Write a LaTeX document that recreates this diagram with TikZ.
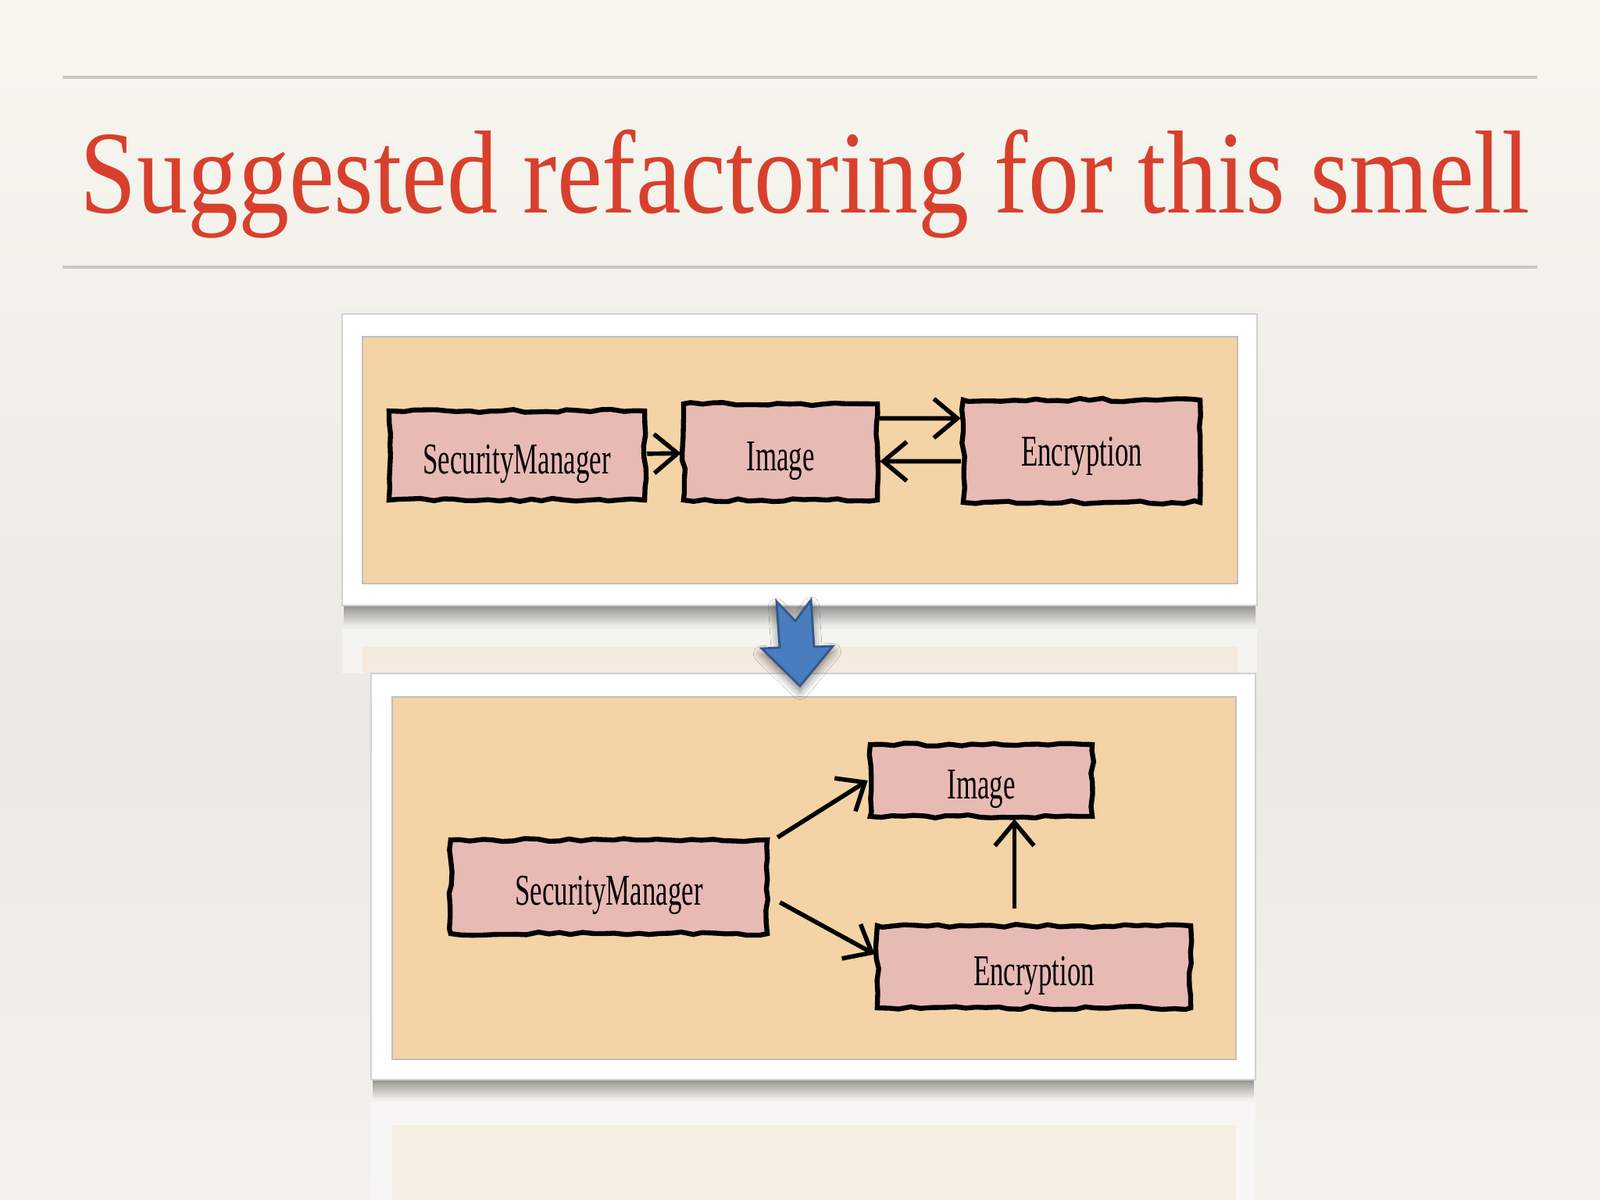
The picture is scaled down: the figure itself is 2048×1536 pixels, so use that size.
\documentclass[tikz,border=0pt]{standalone}
\usepackage{fontspec}
\setmainfont{Liberation Serif}
\newfontfamily\titlefont[FakeStretch=0.86]{Liberation Serif}
\newfontfamily\sketchfont[FakeStretch=0.62]{Liberation Serif}
\usetikzlibrary{shapes,arrows.meta,calc,decorations.pathmorphing,shadows.blur}
\definecolor{slidetop}{HTML}{F7F6EF}
\definecolor{slidemid}{HTML}{EAE9E4}
\definecolor{slidebot}{HTML}{F3F2ED}
\definecolor{titlered}{HTML}{D8402D}
\definecolor{rulegray}{HTML}{CAC8C2}
\definecolor{peach}{HTML}{F4D3A6}
\definecolor{boxpink}{HTML}{E8BAB4}
\definecolor{arrowblue}{HTML}{4A7CC0}
\definecolor{arrowedge}{HTML}{34578A}

\begin{document}
\begin{tikzpicture}[x=0.01cm, y=-0.01cm,
  box_/.style={rectangle, draw=black, fill=boxpink, line width=1.8pt, decorate,
    decoration={random steps, segment length=4pt, amplitude=0.6pt},
    inner sep=0pt, text height=17pt, align=center, font=\sketchfont\fontsize{16}{18}\selectfont},
  arr/.style={-{Straight Barb[length=3mm, width=5mm]}, line width=1.6pt, black},
  frame_/.style={fill=white, draw=black!18, line width=0.6pt},
  shadow_/.style={top color=black!45!slidemid, bottom color=slidemid},
  sketch_/.style={fill=peach, draw=black!25, line width=0.4pt}
]
  % slide background
  \shade[top color=slidetop, bottom color=slidemid] (0,0) rectangle (2048,930);
  \shade[top color=slidemid, bottom color=slidebot] (0,930) rectangle (2048,1536);
  \useasboundingbox (0,0) rectangle (2048,1536);

  % title between the two rules
  \draw[rulegray, line width=1.2pt] (80,99) -- (1968,99);
  \draw[rulegray, line width=1.2pt] (80,342) -- (1968,342);
  \node[anchor=base west, inner sep=0pt, text=titlered, font=\titlefont\fontsize{43}{50}\selectfont]
    (title) at (102,272) {Suggested refactoring for this smell};

  % shadows and reflections under the frames
  \shade[shadow_] (440,770) rectangle (1607,800);
  \fill[white, opacity=0.45] (438,805) rectangle (1609,862);
  \fill[peach, opacity=0.25] (464,828) rectangle (1584,862);
  \shade[shadow_] (477,1377) rectangle (1605,1405);
  \fill[white, opacity=0.45] (475,1410) rectangle (1607,1536);
  \fill[peach, opacity=0.2] (502,1440) rectangle (1582,1536);

  % before
  \node[frame_, minimum width=11.71cm, minimum height=3.73cm] (before) at (1023.5,588.5) {};
  \fill[sketch_] (464,431) rectangle (1584,747);
  \node[box_, minimum width=3.27cm, minimum height=1.14cm] (sm1) at (661.5,583) {SecurityManager};
  \node[box_, minimum width=2.48cm, minimum height=1.23cm] (img1) at (999,578.5) {Image};
  \node[box_, minimum width=3.03cm, minimum height=1.31cm, text height=14pt] (enc1) at (1384.5,577.5) {Encryption};
  \draw[arr] (sm1) -- (img1);
  \draw[arr] ([yshift=4.3mm]img1.east) -- ([yshift=4.2mm]enc1.west);
  \draw[arr] ([yshift=-1.3mm]enc1.west) -- ([yshift=-1.2mm]img1.east);

  % after
  \node[frame_, minimum width=11.32cm, minimum height=5.20cm] (after) at (1041,1122) {};
  \fill[sketch_] (502,892) rectangle (1582,1356);
  \node[box_, minimum width=4.05cm, minimum height=1.20cm] (sm2) at (779.5,1135) {SecurityManager};
  \node[box_, minimum width=2.84cm, minimum height=0.92cm] (img2) at (1256,999) {Image};
  \node[box_, minimum width=4.01cm, minimum height=1.05cm] (enc2) at (1323.5,1237.5) {Encryption};
  \draw[arr] ([xshift=1mm]sm2.north east) -- (img2.west);
  \draw[arr] ([xshift=1.3mm, yshift=-2mm]sm2.east) -- ([yshift=1.6mm]enc2.west);
  \draw[arr] ([xshift=-2.5mm, yshift=1.9mm]enc2.north) -- ([xshift=-2.5mm]enc2.north |- img2.south);

  % block arrow between the frames
  \filldraw[fill=arrowblue, draw=arrowedge, line width=0.8pt, line join=miter,
    blur shadow={shadow xshift=0pt, shadow yshift=-2pt, shadow blur radius=3pt, shadow opacity=50}]
    (994,770) -- (1018,795) -- (1038,768) -- (1042,828) -- (1066,827) -- (1024,878)
    -- (975,830) -- (998,829) -- cycle;
\end{tikzpicture}
\end{document}
